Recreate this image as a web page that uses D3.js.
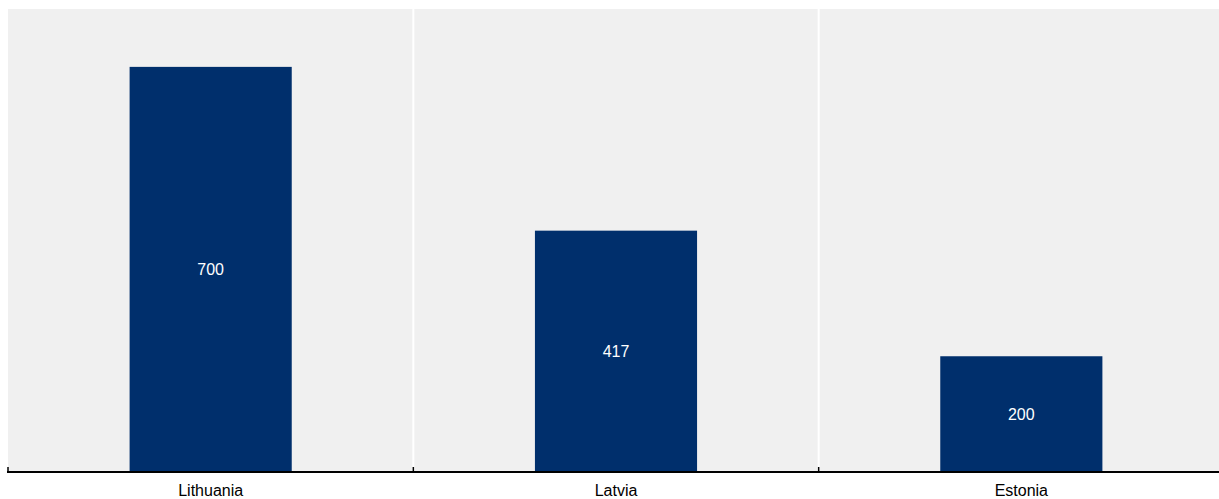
<!DOCTYPE html>
<html>
<head>
<meta charset="utf-8">
<script src="https://cdn.jsdelivr.net/npm/d3@7"></script>
<style>
  html, body { margin: 0; padding: 0; background: #ffffff; }
  svg { display: block; }
  text { font-family: "Liberation Sans", Arial, sans-serif; }
</style>
</head>
<body>
<svg id="chart" width="1219" height="499"></svg>
<script>
// Countries and their values
const countries = ["Lithuania", "Latvia", "Estonia"];
const values = [700, 417, 200];
const yDomain = [0, 800];

const width = 1219, height = 499;
const margin = { top: 9, right: -5, bottom: 27, left: 8 };
const plotW = width - margin.left - margin.right;
const plotH = height - margin.top - margin.bottom;

const svg = d3.select("#chart");
const g = svg.append("g").attr("transform", `translate(${margin.left},${margin.top})`);

const x = d3.scaleBand().domain(countries).range([0, plotW]).padding(0);
const y = d3.scaleLinear().domain(yDomain).range([plotH, 0]);

// Plot background
g.append("rect")
  .attr("x", 0).attr("y", 0)
  .attr("width", plotW).attr("height", plotH)
  .attr("fill", "#f0f0f0");

// Vertical separators between categories
const bounds = countries.slice(1).map(c => x(c));
g.selectAll("line.sep")
  .data(bounds)
  .join("line")
  .attr("class", "sep")
  .attr("x1", d => d).attr("x2", d => d)
  .attr("y1", 0).attr("y2", plotH)
  .attr("stroke", "#ffffff")
  .attr("stroke-width", 2);

// Bars
const barFrac = 0.4;
const data = countries.map((c, i) => ({ country: c, value: values[i] }));
g.selectAll("rect.bar")
  .data(data)
  .join("rect")
  .attr("class", "bar")
  .attr("x", d => x(d.country) + x.bandwidth() * (1 - barFrac) / 2)
  .attr("width", x.bandwidth() * barFrac)
  .attr("y", d => y(d.value))
  .attr("height", d => y(0) - y(d.value))
  .attr("fill", "#002f6c");

// Value labels centred in each bar
g.selectAll("text.val")
  .data(data)
  .join("text")
  .attr("class", "val")
  .attr("x", d => x(d.country) + x.bandwidth() / 2)
  .attr("y", d => (y(d.value) + y(0)) / 2)
  .attr("dy", "0.35em")
  .attr("text-anchor", "middle")
  .attr("fill", "#ffffff")
  .attr("font-size", "16px")
  .text(d => d.value);

// Category axis along the baseline
const axis = g.append("g").attr("transform", `translate(0,${plotH})`);
axis.append("line")
  .attr("x1", -1).attr("x2", plotW)
  .attr("y1", 0).attr("y2", 0)
  .attr("stroke", "#000000")
  .attr("stroke-width", 2);
axis.selectAll("line.tick")
  .data([0].concat(bounds))
  .join("line")
  .attr("class", "tick")
  .attr("x1", d => d).attr("x2", d => d)
  .attr("y1", 0).attr("y2", -5)
  .attr("stroke", "#000000")
  .attr("stroke-width", 1.5);
axis.selectAll("text.cat")
  .data(countries)
  .join("text")
  .attr("class", "cat")
  .attr("x", d => x(d) + x.bandwidth() / 2)
  .attr("y", 24)
  .attr("text-anchor", "middle")
  .attr("fill", "#000000")
  .attr("font-size", "16px")
  .text(d => d);
</script>
</body>
</html>
